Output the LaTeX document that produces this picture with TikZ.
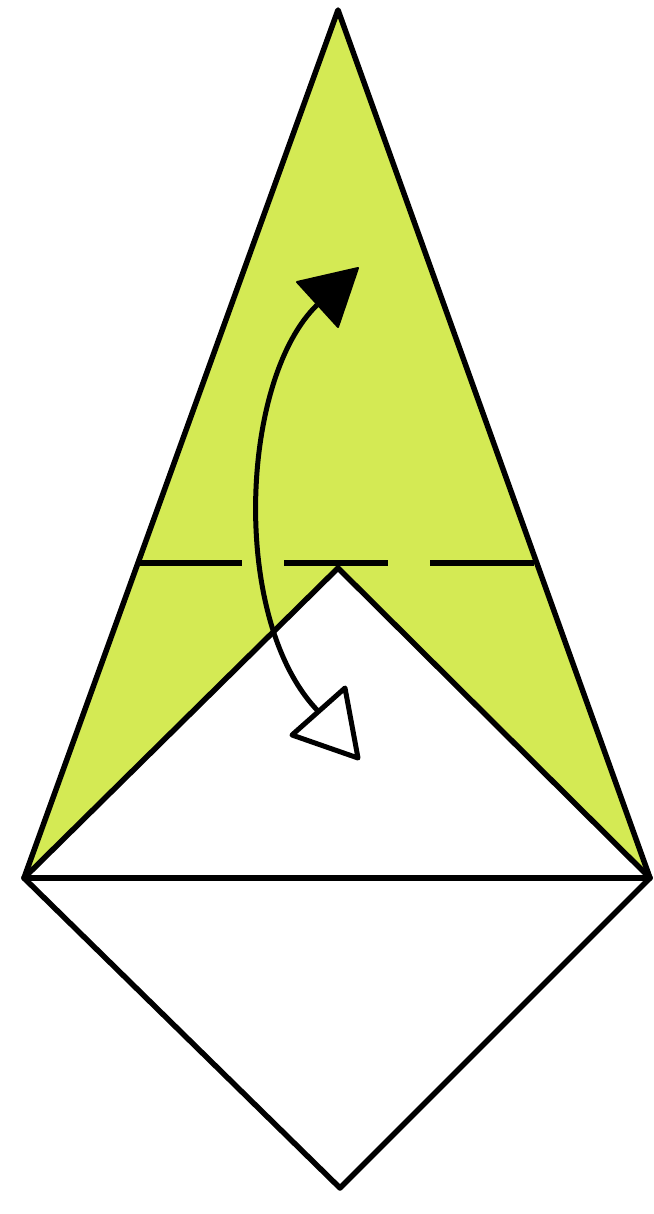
\documentclass[tikz,border=0pt]{standalone}
\usetikzlibrary{calc}
\definecolor{paper}{RGB}{212,234,84}
\begin{document}
\begin{tikzpicture}[x=1pt,y=-1pt,
  edge/.style={line width=5.5pt,line join=round,line cap=round},
  dashline/.style={line width=6.5pt,dash pattern=on 104pt off 42pt},
  arrowline/.style={line width=5pt},
  headfill/.style={fill=black,draw=black,line width=2pt,line join=round},
  headopen/.style={fill=white,draw=black,line width=5pt,line join=round}]
\useasboundingbox (0,0) rectangle (653,1214);
\coordinate (top) at (338,10);
\coordinate (L) at (24,878);
\coordinate (R) at (650,878);
\coordinate (bot) at (340,1188);
\coordinate (in) at (338,568);
% green paper
\fill[paper] (top) -- (L) -- (R) -- cycle;
\fill[white] (L) -- (in) -- (R) -- cycle;
% outlines
\draw[edge] (top) -- (L) -- (bot) -- (R) -- cycle;
\draw[edge] (L) -- (R);
\draw[edge] (L) -- (in) -- (R);
% dashed valley fold line
\coordinate (d1) at (138,563);
\coordinate (d2) at (538,563);
\draw[dashline] (d1) -- (d2);
% fold arrow
\coordinate (a1) at (317,305);
\coordinate (a2) at (318,711);
\draw[arrowline] (a1) .. controls (240,380) and (230,620) .. (a2);
\coordinate (t1) at (358,268);
\coordinate (t1a) at (297,282);
\coordinate (t1b) at (338,327);
\draw[headfill] (t1) -- (t1a) -- (t1b) -- cycle;
\coordinate (t2) at (358,758);
\coordinate (t2a) at (292,735);
\coordinate (t2b) at (345,688);
\draw[headopen] (t2) -- (t2a) -- (t2b) -- cycle;
\end{tikzpicture}
\end{document}
